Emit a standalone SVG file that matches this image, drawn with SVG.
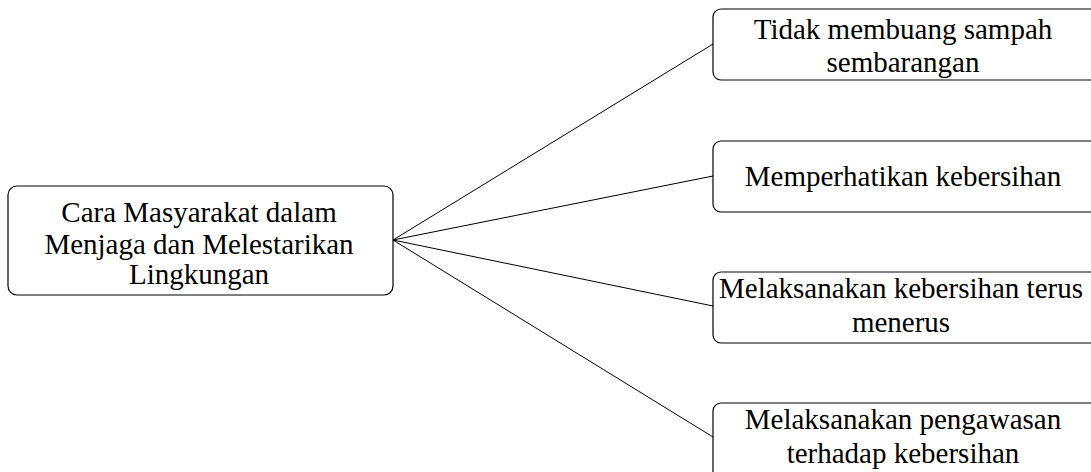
<svg xmlns="http://www.w3.org/2000/svg" width="1091" height="472" viewBox="0 0 1091 472">
  <style>
    .box { fill: #ffffff; stroke: #000000; stroke-width: 1.2; }
    .edge { stroke: #000000; stroke-width: 1; fill: none; }
    .lbl { font-family: "Liberation Serif", "Times New Roman", serif; font-size: 29px; fill: #000000; text-anchor: middle; }
  </style>
  <rect width="1091" height="472" fill="#ffffff"/>

  <g id="connectors">
    <line class="edge" x1="393" y1="240" x2="713" y2="44"/>
    <line class="edge" x1="393" y1="240" x2="713" y2="176"/>
    <line class="edge" x1="393" y1="240" x2="713" y2="306"/>
    <line class="edge" x1="393" y1="240" x2="713" y2="437"/>
  </g>

  <g id="root">
    <rect class="box" x="8" y="186" width="385" height="109" rx="9"/>
    <text class="lbl" x="199" y="222">Cara Masyarakat dalam</text>
    <text class="lbl" x="199" y="254">Menjaga dan Melestarikan</text>
    <text class="lbl" x="199" y="284">Lingkungan</text>
  </g>

  <g id="n1">
    <rect class="box" x="713" y="9" width="390" height="71" rx="8"/>
    <text class="lbl" x="903" y="39">Tidak membuang sampah</text>
    <text class="lbl" x="903" y="72">sembarangan</text>
  </g>

  <g id="n2">
    <rect class="box" x="713" y="141" width="390" height="71" rx="8"/>
    <text class="lbl" x="903" y="186">Memperhatikan kebersihan</text>
  </g>

  <g id="n3">
    <rect class="box" x="713" y="272" width="390" height="71" rx="8"/>
    <text class="lbl" x="901" y="298">Melaksanakan kebersihan terus</text>
    <text class="lbl" x="901" y="332">menerus</text>
  </g>

  <g id="n4">
    <rect class="box" x="713" y="403" width="390" height="80" rx="8"/>
    <text class="lbl" x="903" y="429">Melaksanakan pengawasan</text>
    <text class="lbl" x="903" y="463">terhadap kebersihan</text>
  </g>
</svg>
